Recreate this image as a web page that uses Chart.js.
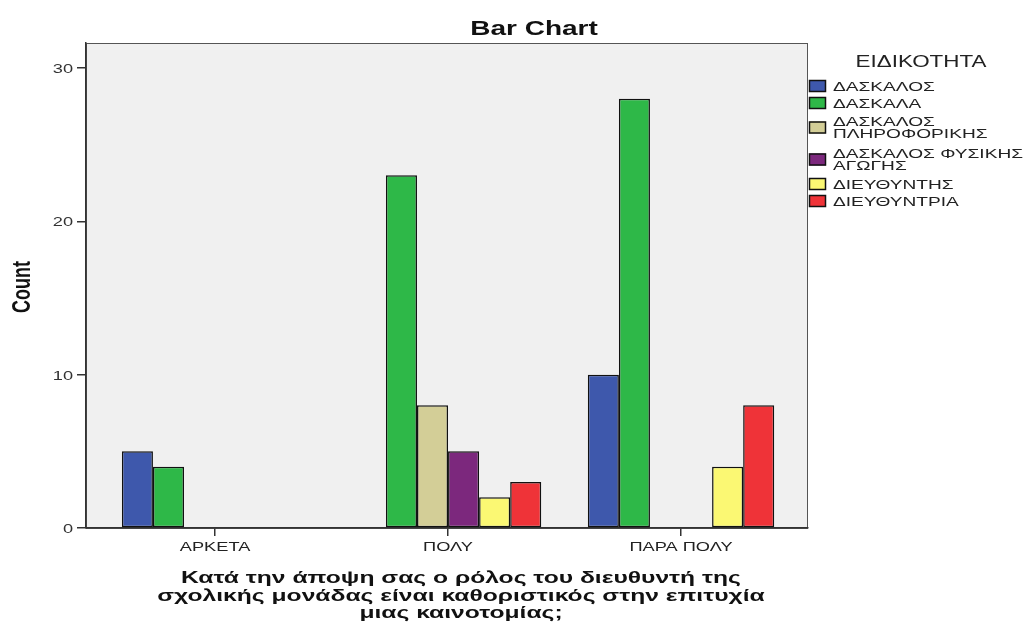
<!DOCTYPE html>
<html>
<head>
<meta charset="utf-8">
<script src="https://cdn.jsdelivr.net/npm/chart.js@4.4.1/dist/chart.umd.min.js"></script>
<style>
  html, body { margin: 0; padding: 0; background: #fff; }
  canvas { display: block; }
</style>
</head>
<body>
<canvas id="barChart" width="1027" height="624"></canvas>
<script>
const categories = ['ΑΡΚΕΤΑ', 'ΠΟΛΥ', 'ΠΑΡΑ ΠΟΛΥ'];
const seriesNames = ['ΔΑΣΚΑΛΟΣ', 'ΔΑΣΚΑΛΑ', 'ΔΑΣΚΑΛΟΣ\nΠΛΗΡΟΦΟΡΙΚΗΣ', 'ΔΑΣΚΑΛΟΣ ΦΥΣΙΚΗΣ\nΑΓΩΓΗΣ', 'ΔΙΕΥΘΥΝΤΗΣ', 'ΔΙΕΥΘΥΝΤΡΙΑ'];
const daskalos = [5, null, 10];
const daskala = [4, 23, 28];
const plirioforikis = [null, 8, null];
const fysikisAgogis = [null, 5, null];
const diefthyntis = [null, 2, 4];
const diefthyntria = [null, 3, 8];
const yTicks = [0, 10, 20, 30];
const colors = ['#3E58AC', '#2EB848', '#D3CE97', '#7C287D', '#FBF873', '#EF3338'];

const chartTitle = 'Bar Chart';
const legendTitle = 'ΕΙΔΙΚΟΤΗΤΑ';
const yTitle = 'Count';
const xTitle = ['Κατά την άποψη σας ο ρόλος του διευθυντή της',
  'σχολικής μονάδας είναι καθοριστικός στην επιτυχία',
  'μιας καινοτομίας;'];

const allSeries = [daskalos, daskala, plirioforikis, fysikisAgogis, diefthyntis, diefthyntria];

// SPSS export looks stretched sideways, so text is drawn widened
const SX = 1.4;
function wideText(ctx, text, x, y, font, align, color, sx) {
  ctx.save();
  ctx.font = font;
  ctx.fillStyle = color || '#222';
  ctx.textAlign = align;
  ctx.textBaseline = 'alphabetic';
  ctx.translate(x, y);
  ctx.scale(sx || SX, 1);
  ctx.fillText(text, 0, 0);
  ctx.restore();
}

const spssLook = {
  id: 'spssLook',
  beforeDraw(chart) {
    const { ctx, chartArea: a } = chart;
    ctx.save();
    ctx.fillStyle = '#fff';
    ctx.fillRect(0, 0, chart.width, chart.height);
    ctx.fillStyle = '#f0f0f0';
    ctx.fillRect(a.left, a.top, a.right - a.left, a.bottom - a.top);
    ctx.strokeStyle = '#555';
    ctx.lineWidth = 1;
    ctx.strokeRect(a.left + 0.5, a.top + 0.5, a.right - a.left - 1, a.bottom - a.top);
    ctx.restore();
  },
  afterDraw(chart) {
    const { ctx } = chart;
    const xs = chart.scales.x, ys = chart.scales.y;
    const f = 'Liberation Sans, Arial, sans-serif';

    wideText(ctx, chartTitle, 534, 35, 'bold 20px ' + f, 'center', '#111');

    yTicks.forEach(v => {
      wideText(ctx, String(v), 73, ys.getPixelForValue(v) + 5, '13px ' + f, 'right', '#333');
    });
    categories.forEach((c, i) => {
      wideText(ctx, c, xs.getPixelForValue(i), 551, '13px ' + f, 'center', '#222');
    });

    xTitle.forEach((line, i) => {
      wideText(ctx, line, 461, 583 + i * 17.5, 'bold 17px ' + f, 'center', '#111', 1.45);
    });

    // rotated y title
    ctx.save();
    ctx.font = 'bold 18px ' + f;
    ctx.fillStyle = '#111';
    ctx.textAlign = 'center';
    ctx.translate(30, 287);
    ctx.rotate(-Math.PI / 2);
    ctx.scale(1, SX);
    ctx.fillText(yTitle, 0, 0);
    ctx.restore();

    // legend
    wideText(ctx, legendTitle, 921, 67, '16px ' + f, 'center', '#222');
    let top = 77.5;
    chart.data.datasets.forEach(ds => {
      const lines = ds.label.split('\n');
      const h = lines.length > 1 ? 32 : 17;
      const cy = top + h / 2;
      ctx.save();
      ctx.fillStyle = ds.backgroundColor;
      ctx.fillRect(809, cy - 6, 17, 12);
      ctx.strokeStyle = '#111';
      ctx.lineWidth = 1.5;
      ctx.strokeRect(809.5, cy - 5.5, 16, 11);
      ctx.restore();
      if (lines.length === 1) {
        wideText(ctx, lines[0], 833, cy + 5, '13px ' + f, 'left', '#222', 1.47);
      } else {
        wideText(ctx, lines[0], 833, cy - 2, '13px ' + f, 'left', '#222', 1.47);
        wideText(ctx, lines[1], 833, cy + 10, '13px ' + f, 'left', '#222', 1.47);
      }
      top += h;
    });
  }
};

new Chart(document.getElementById('barChart').getContext('2d'), {
  type: 'bar',
  data: {
    datasets: allSeries.map((vals, k) => ({
      label: seriesNames[k],
      data: vals.map((v, i) => ({ x: i, y: v })),
      backgroundColor: colors[k],
      borderColor: '#111',
      borderWidth: 1.5,
      borderSkipped: false,
      categoryPercentage: 0.8,
      barPercentage: 1
    }))
  },
  options: {
    responsive: false,
    animation: false,
    layout: { padding: { top: 43, right: 219, left: 0, bottom: 0 } },
    scales: {
      x: {
        type: 'linear',
        offset: false,
        min: -0.554,
        max: 2.545,
        afterBuildTicks: s => { s.ticks = categories.map((c, i) => ({ value: i })); },
        afterFit: s => { s.height = 96; },
        ticks: { display: false },
        grid: { offset: false, drawOnChartArea: false, drawTicks: true, tickLength: 8, color: '#333', lineWidth: 1.5 },
        border: { display: true, color: '#333', width: 1.5 }
      },
      y: {
        min: 0,
        max: 31.63,
        afterBuildTicks: s => { s.ticks = yTicks.map(v => ({ value: v })); },
        afterFit: s => { s.width = 86; },
        ticks: { display: false },
        grid: { drawOnChartArea: false, drawTicks: true, tickLength: 9, color: '#333', lineWidth: 1.5 },
        border: { display: true, color: '#333', width: 1.5 }
      }
    },
    plugins: {
      legend: { display: false },
      tooltip: { enabled: false }
    }
  },
  plugins: [spssLook]
});
</script>
</body>
</html>
